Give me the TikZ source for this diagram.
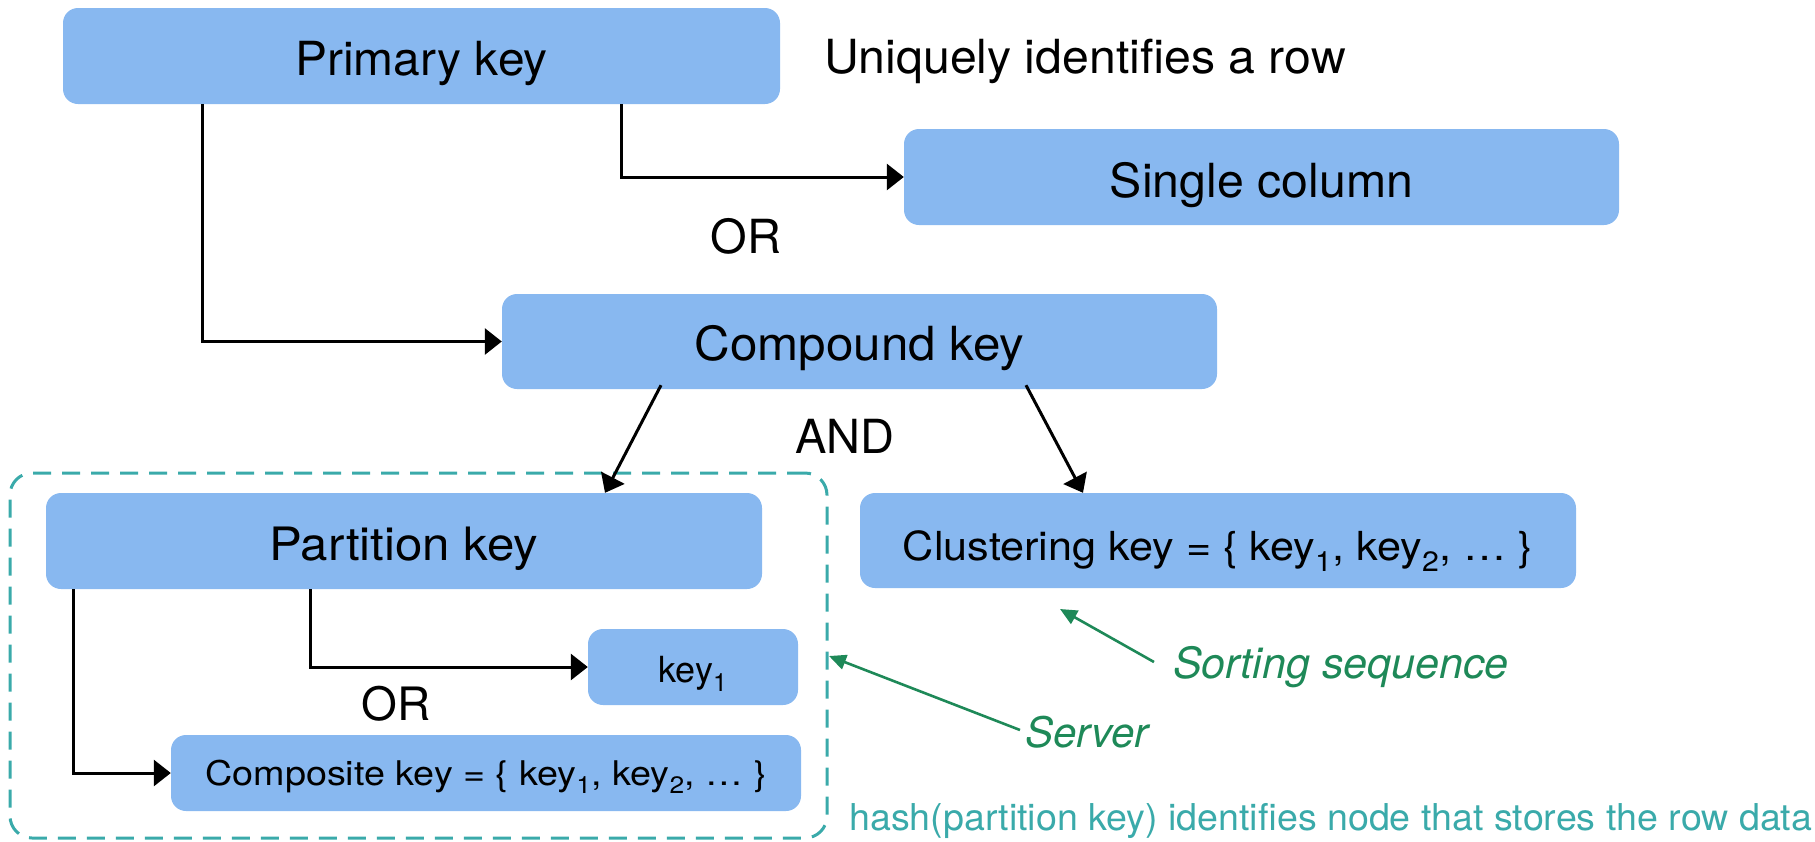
\documentclass[tikz,border=0pt]{standalone}
\usepackage{graphicx}
\usepackage{fontspec}
\setmainfont{TeX Gyre Heros}
\usetikzlibrary{arrows.meta,calc}
\definecolor{boxblue}{RGB}{136,184,240}
\definecolor{notegreen}{RGB}{30,137,88}
\definecolor{hashteal}{RGB}{58,170,170}
\newcommand{\fs}[1]{\fontsize{#1}{#1}\selectfont}
\newcommand{\hx}[2]{\scalebox{#1}[1]{#2}}
\begin{document}
\begin{tikzpicture}[x=1pt,y=-1pt,
  keybox/.style={fill=boxblue, rounded corners=15pt, inner sep=0pt,
    text depth=0pt, align=center},
  lbl/.style={inner sep=0pt, text=black},
  note/.style={inner sep=0pt, text=notegreen, font=\fs{43}\itshape},
  arr/.style={line width=3pt, -{Triangle[length=17pt,width=26pt]}},
  garr/.style={notegreen, line width=2.6pt, -{Triangle[length=17pt,width=15pt]}},
  group/.style={draw=hashteal, line width=3pt, dash pattern=on 18pt off 11pt,
    rounded corners=22pt, inner sep=0pt}]
\useasboundingbox (0,0) rectangle (1815,841);

% key boxes
\node[keybox, minimum width=717pt, minimum height=96pt, text height=38pt, font=\fs{47}] (primary) at (421.5,56) {\hx{1.02}{Primary key}};
\node[keybox, minimum width=715pt, minimum height=96pt, text height=40pt, font=\fs{47}] (single) at (1261.5,177) {\hx{1.027}{Single column}};
\node[keybox, minimum width=715pt, minimum height=95pt, text height=37pt, font=\fs{47}] (compound) at (859.5,341.5) {\hx{1.05}{Compound key}};
\node[keybox, minimum width=716pt, minimum height=96pt, text height=38pt, font=\fs{46}] (partition) at (404,541) {\hx{1.07}{Partition key}};
\node[keybox, minimum width=716pt, minimum height=95pt, text height=39pt, font=\fs{40}] (clustering) at (1218,540.5) {\hx{1.08}{Clustering key = \{ key\textsubscript{1}, key\textsubscript{2}, … \}}};
\node[keybox, minimum width=210pt, minimum height=76pt, text height=30pt, font=\fs{36}] (key1) at (693,667) {key\textsubscript{1}};
\node[keybox, minimum width=630pt, minimum height=76pt, text height=24pt, font=\fs{34}] (composite) at (486,773) {\hx{1.11}{Composite key = \{ key\textsubscript{1}, key\textsubscript{2}, … \}}};

% dashed server group
\node[group, minimum width=817pt, minimum height=365pt] (server) at (418.5,655.5) {};

% plain labels
\node[lbl, anchor=base west, font=\fs{47}] (unique) at (824,73) {\hx{1.026}{Uniquely identifies a row}};
\node[lbl, anchor=base, font=\fs{47}] (or1) at (746,253) {OR};
\node[lbl, anchor=base, font=\fs{47}] (and) at (845,453) {AND};
\node[lbl, anchor=base, font=\fs{46}] (or2) at (396,720) {OR};

% annotations
\node[note, anchor=base west] (sortlbl) at (1173,678) {Sorting sequence};
\node[note, anchor=base west, font=\fs{42}\itshape] (serverlbl) at (1025,747) {Server};
\node[inner sep=0pt, anchor=base west, text=hashteal, font=\fs{37}] (hash) at (849,830) {\hx{1.016}{hash(partition key) identifies node that stores the row data}};

% connector columns
\coordinate (pr) at (621,0);
\coordinate (pl) at (202,0);
\coordinate (cl) at (661,0);
\coordinate (cpl) at (605,0);
\coordinate (cr) at (1026,0);
\coordinate (ccl) at (1083,0);
\coordinate (kr) at (310,0);
\coordinate (kl) at (73.5,0);

\draw[arr] (primary.south -| pr) |- (single.west);
\draw[arr] (primary.south -| pl) |- (compound.west);
\draw[arr] ($(compound.south -| cl)+(0,-4)$) -- (partition.north -| cpl);
\draw[arr] ($(compound.south -| cr)+(0,-4)$) -- (clustering.north -| ccl);
\draw[arr] (partition.south -| kr) |- (key1.west);
\draw[arr] (partition.south -| kl) |- (composite.west);

% annotation arrows
\coordinate (sorttail) at (1154,662);
\coordinate (sorttip) at (1060,609);
\coordinate (servertail) at (1020,730);
\coordinate (servertip) at (829,656);
\draw[garr] (sorttail) -- (sorttip);
\draw[garr] (servertail) -- (servertip);
\end{tikzpicture}
\end{document}
